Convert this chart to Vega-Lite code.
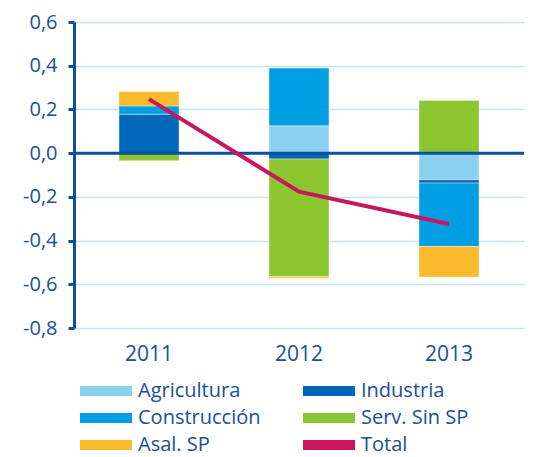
{
  "$schema": "https://vega.github.io/schema/vega-lite/v6.json",
  "width": 450,
  "height": 306,
  "autosize": {"type": "none"},
  "padding": {"left": 74, "top": 22, "right": 18, "bottom": 129},
  "config": {"view": {"stroke": null}, "font": "Open Sans"},
  "datasets": {
    "bars": [
      {"year": "2011", "sector": "Agricultura", "value": 0.003, "order": 1},
      {"year": "2011", "sector": "Industria", "value": 0.175, "order": 2},
      {"year": "2011", "sector": "Construcción", "value": 0.038, "order": 3},
      {"year": "2011", "sector": "Serv. Sin SP", "value": -0.035, "order": 4},
      {"year": "2011", "sector": "Asal. SP", "value": 0.066, "order": 5},
      {"year": "2012", "sector": "Agricultura", "value": 0.125, "order": 1},
      {"year": "2012", "sector": "Industria", "value": -0.027, "order": 2},
      {"year": "2012", "sector": "Construcción", "value": 0.264, "order": 3},
      {"year": "2012", "sector": "Serv. Sin SP", "value": -0.538, "order": 4},
      {"year": "2012", "sector": "Asal. SP", "value": -0.007, "order": 5},
      {"year": "2013", "sector": "Agricultura", "value": -0.122, "order": 1},
      {"year": "2013", "sector": "Industria", "value": -0.015, "order": 2},
      {"year": "2013", "sector": "Construcción", "value": -0.29, "order": 3},
      {"year": "2013", "sector": "Serv. Sin SP", "value": 0.241, "order": 4},
      {"year": "2013", "sector": "Asal. SP", "value": -0.14, "order": 5}
    ],
    "total": [
      {"year": "2011", "sector": "Total", "value": 0.247},
      {"year": "2012", "sector": "Total", "value": -0.176},
      {"year": "2013", "sector": "Total", "value": -0.324}
    ]
  },
  "layer": [
    {
      "data": {"name": "bars"},
      "mark": {"type": "bar", "stroke": "#ffffff", "strokeOpacity": 0.4, "strokeWidth": 1},
      "encoding": {
        "x": {
          "field": "year", "type": "nominal",
          "scale": {"paddingInner": 0.6, "paddingOuter": 0.3},
          "axis": {"title": null, "domain": false, "ticks": false, "labelAngle": 0,
                   "labelFontSize": 21, "labelColor": "#1a4f9c", "labelPadding": 15}
        },
        "y": {
          "field": "value", "type": "quantitative", "stack": "zero",
          "scale": {"domain": [-0.8, 0.6], "nice": false, "zero": false},
          "axis": {"title": null, "values": [-0.8, -0.6, -0.4, -0.2, 0, 0.2, 0.4, 0.6],
                   "labelExpr": "replace(replace(format(datum.value, '.1f'), '.', ','), '\u2212', '-')",
                   "domainColor": "#0b4f9f", "domainWidth": 3,
                   "tickColor": "#0b4f9f", "tickWidth": 3, "tickSize": 6,
                   "gridColor": "#bfe6f8", "gridWidth": 1.5,
                   "labelFontSize": 20, "labelColor": "#1a4f9c", "labelPadding": 11}
        },
        "color": {
          "field": "sector", "type": "nominal",
          "scale": {
            "domain": ["Agricultura", "Industria", "Construcción", "Serv. Sin SP", "Asal. SP", "Total"],
            "range": ["#8bd1f2", "#0068b8", "#009fe3", "#8cc630", "#fbba2c", "#c8175d"]
          },
          "legend": {
            "title": null, "orient": "none", "legendX": 1, "legendY": 359,
            "direction": "horizontal",
            "columns": 2, "columnPadding": 37, "rowPadding": 7,
            "labelFontSize": 20, "labelColor": "#1a4f9c", "labelOffset": 43,
            "symbolSize": 100, "symbolStrokeWidth": 0,
            "symbolType": "M-1,-1H9.4V1H-1Z",
            "encode": {
              "symbols": {
                "update": {
                  "shape": {"signal": "datum.value === 'Total' ? 'M-1,-0.3H9.4V0.3H-1Z' : 'M-1,-1H9.4V1H-1Z'"},
                  "strokeWidth": {"value": 0}
                }
              }
            }
          }
        },
        "order": {"field": "order", "type": "quantitative"}
      }
    },
    {
      "data": {"values": [{}]},
      "mark": {"type": "rule", "color": "#0b4f9f", "strokeWidth": 3},
      "encoding": {"y": {"datum": 0, "type": "quantitative"}}
    },
    {
      "data": {"name": "total"},
      "mark": {"type": "line", "strokeWidth": 4},
      "encoding": {
        "x": {"field": "year", "type": "nominal"},
        "y": {"field": "value", "type": "quantitative"},
        "color": {"field": "sector", "type": "nominal"}
      }
    }
  ]
}
